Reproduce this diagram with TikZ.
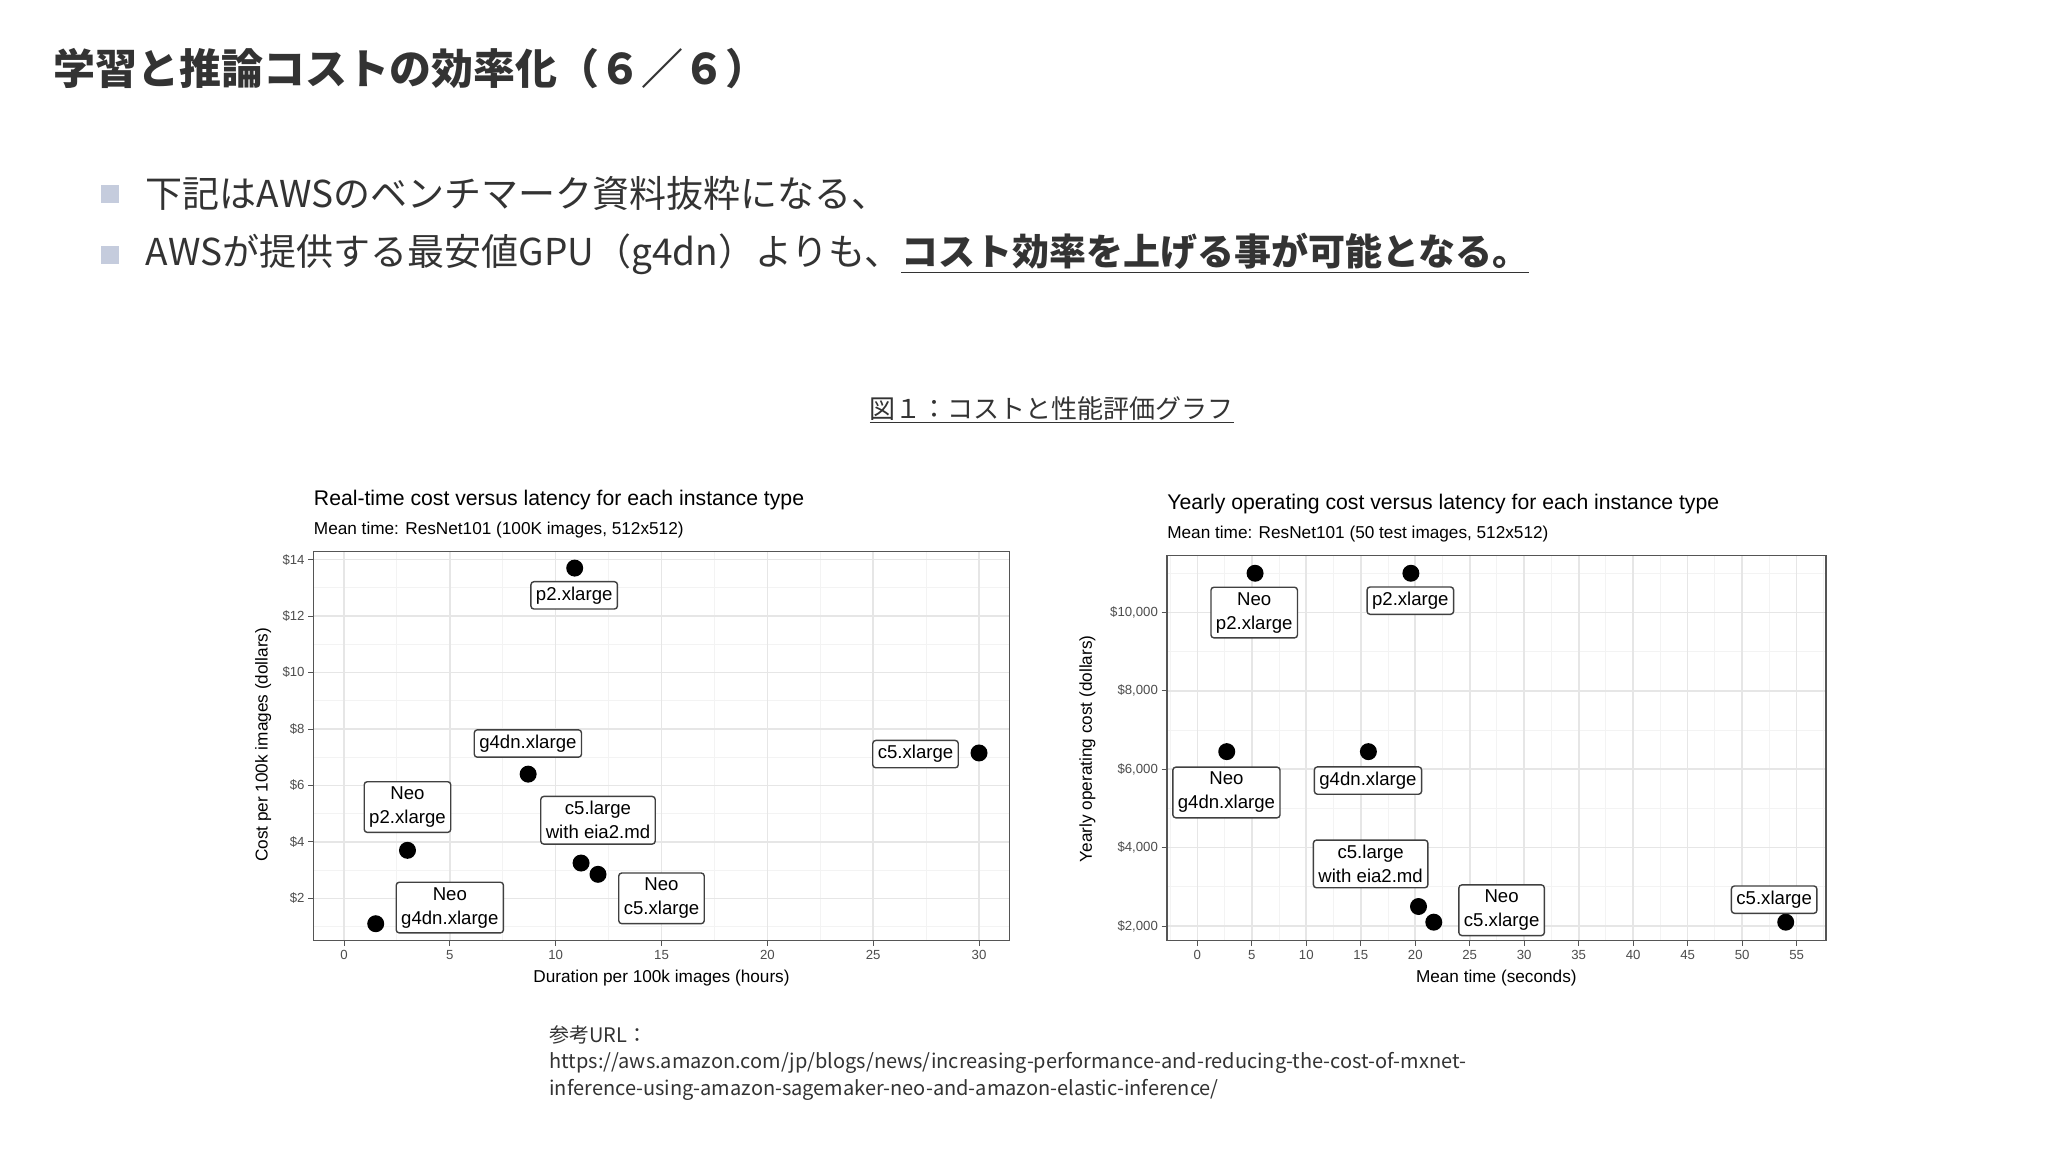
\documentclass[tikz,border=0pt]{standalone}
\usepackage{fontspec}
\setmainfont{Noto Sans CJK JP}
\newfontfamily\chartfont{Liberation Sans}
\usetikzlibrary{calc}
\definecolor{majg}{HTML}{E6E6E6}
\definecolor{ming}{HTML}{F3F3F3}
\definecolor{axg}{HTML}{555555}
\definecolor{tickg}{HTML}{4D4D4D}
\definecolor{bul}{HTML}{C5CCDD}
\definecolor{txt}{HTML}{333333}
\tikzset{
  lbl/.style={draw=black!75,line width=0.7pt,rounded corners=1.5pt,fill=white,font=\chartfont\fontsize{9.3}{12}\selectfont,align=center,inner sep=2.5pt},
  dot/.style={circle,fill=black,inner sep=0pt,minimum size=8.5pt},
  tk/.style={font=\chartfont\fontsize{6.6}{8}\selectfont,text=tickg},
  ttl/.style={font=\chartfont\fontsize{10.6}{13}\selectfont,anchor=west,inner sep=0pt},
  sub/.style={font=\chartfont\fontsize{8.6}{10}\selectfont,anchor=west,inner sep=0pt},
  axt/.style={font=\chartfont\fontsize{8.6}{10}\selectfont,inner sep=0pt},
}
\begin{document}
\begin{tikzpicture}[x=0.6615pt,y=-0.6615pt]
\useasboundingbox[fill=white] (0,0) rectangle (1548,870);
% header
\node[anchor=west,inner sep=0pt,font=\fontsize{21}{24}\selectfont\bfseries,text=txt] (title) at (40,52) {学習と推論コストの効率化（６／６）};
\node[fill=bul,minimum size=9pt,inner sep=0pt] (b1) at (83,147) {};
\node[fill=bul,minimum size=9pt,inner sep=0pt] (b2) at (83,193) {};
\node[anchor=west,inner sep=0pt,font=\fontsize{18.5}{22}\selectfont,text=txt] (t1) at (110,146) {下記はAWSのベンチマーク資料抜粋になる、};
\node[anchor=west,inner sep=0pt,font=\fontsize{18.5}{22}\selectfont,text=txt] (t2) at (110,192) {AWSが提供する最安値GPU（g4dn）よりも、\underline{\textbf{コスト効率を上げる事が可能となる。}}};
\node[inner sep=0pt,font=\fontsize{13}{16}\selectfont,text=txt] (cap) at (795,310) {\underline{図１：コストと性能評価グラフ}};
\node[anchor=north west,inner sep=0pt,align=left,font=\fontsize{10}{13.2}\selectfont,text=txt] (ref) at (415,775) {参考URL：\\https://aws.amazon.com/jp/blogs/news/increasing-performance-and-reducing-the-cost-of-mxnet-\\inference-using-amazon-sagemaker-neo-and-amazon-elastic-inference/};

% ===== left chart =====
\begin{scope}
\clip (237,417) rectangle (763,711);
\foreach \v in {2.5,7.5,...,32.5} \draw[ming,line width=0.5pt] ({260+16*\v},417) -- ({260+16*\v},711);
\foreach \v in {1,3,...,15} \draw[ming,line width=0.5pt] (237,{423+21.333*(14-\v)}) -- (763,{423+21.333*(14-\v)});
\foreach \v in {0,5,...,30} \draw[majg,line width=0.8pt] ({260+16*\v},417) -- ({260+16*\v},711);
\foreach \v in {2,4,...,14} \draw[majg,line width=0.8pt] (237,{423+21.333*(14-\v)}) -- (763,{423+21.333*(14-\v)});
\end{scope}
\draw[axg,line width=0.8pt] (237,417) rectangle (763,711);
\foreach \v in {0,5,...,30} {\draw[axg] ({260+16*\v},711) -- ({260+16*\v},715); \node[tk] at ({260+16*\v},722) {\v};}
\foreach \v in {2,4,...,14} {\draw[axg] (233,{423+21.333*(14-\v)}) -- (237,{423+21.333*(14-\v)}); \node[tk,anchor=east,inner sep=1pt] at (232,{423+21.333*(14-\v)}) {\$\v};}
\node[ttl] (lt) at (237,378) {Real-time cost versus latency for each instance type};
\node[sub] (ls) at (237,401) {Mean time: ResNet101 (100K images, 512x512)};
\node[axt] (lx) at (500,739) {Duration per 100k images (hours)};
\node[axt,rotate=90] (ly) at (199,563) {Cost per 100k images (dollars)};
\node[dot] (la) at ({260+16*1.5},{423+21.333*(14-1.1)}) {};
\node[dot] (lb) at ({260+16*3},{423+21.333*(14-3.7)}) {};
\node[dot] (lc) at ({260+16*8.7},{423+21.333*(14-6.4)}) {};
\node[dot] (ld) at ({260+16*10.9},{423+21.333*(14-13.7)}) {};
\node[dot] (le) at ({260+16*11.2},{423+21.333*(14-3.25)}) {};
\node[dot] (lf) at ({260+16*12},{423+21.333*(14-2.85)}) {};
\node[dot] (lg) at ({260+16*30},{423+21.333*(14-7.15)}) {};
\node[lbl] (Ld) at (434,450) {p2.xlarge};
\node[lbl] (Lc) at (399,562) {g4dn.xlarge};
\node[lbl] (Lb) at (308,610) {Neo\\p2.xlarge};
\node[lbl] (Le) at (452,620) {c5.large\\with eia2.md};
\node[lbl] (Lf) at (500,679) {Neo\\c5.xlarge};
\node[lbl] (La) at (340,686) {Neo\\g4dn.xlarge};
\node[lbl] (Lg) at (692,570) {c5.xlarge};

% ===== right chart =====
\begin{scope}
\clip (882,420) rectangle (1380,711);
\foreach \v in {-2.5,2.5,...,57.5} \draw[ming,line width=0.5pt] ({905+8.236*\v},420) -- ({905+8.236*\v},711);
\foreach \v in {1000,3000,...,11000} \draw[ming,line width=0.5pt] (882,{700-0.029625*(\v-2000)}) -- (1380,{700-0.029625*(\v-2000)});
\foreach \v in {0,5,...,55} \draw[majg,line width=0.8pt] ({905+8.236*\v},420) -- ({905+8.236*\v},711);
\foreach \v in {2000,4000,...,10000} \draw[majg,line width=0.8pt] (882,{700-0.029625*(\v-2000)}) -- (1380,{700-0.029625*(\v-2000)});
\end{scope}
\draw[axg,line width=0.8pt] (882,420) rectangle (1380,711);
\foreach \v in {0,5,...,55} {\draw[axg] ({905+8.236*\v},711) -- ({905+8.236*\v},715); \node[tk] at ({905+8.236*\v},722) {\v};}
\foreach \v/\t in {2000/{2,000},4000/{4,000},6000/{6,000},8000/{8,000},10000/{10,000}} {\draw[axg] (878,{700-0.029625*(\v-2000)}) -- (882,{700-0.029625*(\v-2000)}); \node[tk,anchor=east,inner sep=1pt] at (877,{700-0.029625*(\v-2000)}) {\$\t};}
\node[ttl] (rt) at (882,381) {Yearly operating cost versus latency for each instance type};
\node[sub] (rs) at (882,404) {Mean time: ResNet101 (50 test images, 512x512)};
\node[axt] (rx) at (1131,739) {Mean time (seconds)};
\node[axt,rotate=90] (ry) at (822,566) {Yearly operating cost (dollars)};
\node[dot] (ra) at ({905+8.236*5.3},{700-0.029625*(11000-2000)}) {};
\node[dot] (rb) at ({905+8.236*19.6},{700-0.029625*(11000-2000)}) {};
\node[dot] (rc) at ({905+8.236*2.7},{700-0.029625*(6450-2000)}) {};
\node[dot] (rd) at ({905+8.236*15.7},{700-0.029625*(6450-2000)}) {};
\node[dot] (re) at ({905+8.236*20.3},{700-0.029625*(2500-2000)}) {};
\node[dot] (rf) at ({905+8.236*21.7},{700-0.029625*(2100-2000)}) {};
\node[dot] (rg) at ({905+8.236*54},{700-0.029625*(2100-2000)}) {};
\node[lbl] (Ra) at (948,463) {Neo\\p2.xlarge};
\node[lbl] (Rb) at (1066,454) {p2.xlarge};
\node[lbl] (Rc) at (927,599) {Neo\\g4dn.xlarge};
\node[lbl] (Rd) at (1034,590) {g4dn.xlarge};
\node[lbl] (Re) at (1036,653) {c5.large\\with eia2.md};
\node[lbl] (Rf) at (1135,688) {Neo\\c5.xlarge};
\node[lbl] (Rg) at (1341,680) {c5.xlarge};
\end{tikzpicture}
\end{document}
